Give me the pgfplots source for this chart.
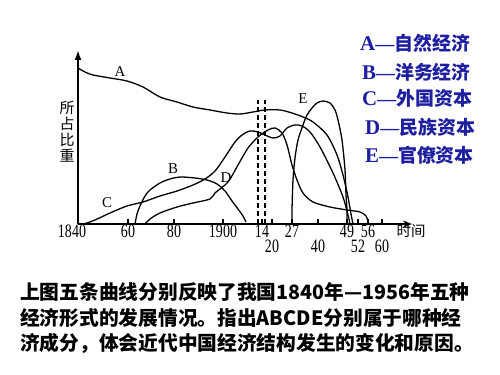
\documentclass[border=0pt]{standalone}
\usepackage{fontspec}
\setmainfont{Liberation Serif}
\newfontfamily\cjk{Noto Sans CJK SC}
\usepackage{pgfplots}
\pgfplotsset{compat=1.18}
\usetikzlibrary{arrows.meta}
\definecolor{legblue}{RGB}{30,30,160}
\newcommand{\leg}[2]{{\fontsize{21}{21}\selectfont\bfseries #1}{\fontsize{19}{19}\selectfont\bfseries —}{\cjk\bfseries\fontsize{19}{19}\selectfont #2}}
\newcommand{\tl}[1]{\scalebox{0.74}[1]{#1}}
\begin{document}
\begin{tikzpicture}
\useasboundingbox (0,0) rectangle (500bp,375bp);
\begin{axis}[
  at={(78bp,151bp)}, anchor=south west,
  x=1bp, y=1bp,
  xmin=0, xmax=334, ymin=0, ymax=174,
  axis lines=left,
  x axis line style={line width=1.8bp, -{Stealth[length=9bp,width=7bp]}},
  y axis line style={line width=1.8bp, -{Latex[length=10bp,width=7bp]}},
  xtick={0,50,96,145,184,214,269,290},
  xticklabels={{\hspace*{-12bp}\tl{1840}},\tl{60},\tl{80},\tl{1900},\tl{14},\tl{27},\tl{49},\tl{56}},
  extra x ticks={194,240,280,304},
  extra x tick labels={\tl{20},\tl{40},\tl{52},\tl{60}},
  extra x tick style={xticklabel style={yshift=-15bp}},
  ytick=\empty,
  tick align=inside,
  major tick length=4.5bp,
  xtick style={line width=1.2bp, black},
  xticklabel style={font=\fontsize{19}{19}\selectfont, inner sep=1bp},
  clip=false,
]
% A
\addplot[black, line width=1.3bp, smooth] coordinates {
(0,156) (7,152) (15,149) (32,146) (49,143) (65,137) (82,127) (99,122) (115,117) (132,114) (149,111) (162,110) (175,112) (187,114) (202,114) (214,111) (225,107) (235,102) (249,89) (259,69) (265,49) (270,27) (273,10) (275,0)};
% B
\addplot[black, line width=1.3bp, smooth] coordinates {
(57,0) (59,10) (62,18) (67,28) (72,34) (82,41) (92,45) (102,47) (117,46) (129,44) (139,40) (147,33) (154,23) (160,15) (165,8) (168,2)};
% C
\addplot[black, line width=1.3bp, smooth] coordinates {
(6,0) (17,4) (32,11) (49,18) (65,22) (82,28) (99,33) (115,39) (127,45) (137,53) (147,67) (157,82) (164,89) (172,93) (180,92) (187,89) (195,86) (202,88) (209,96) (217,99) (224,98) (232,92) (242,77) (255,51) (265,27) (270,9) (272,0)};
% D
\addplot[black, line width=1.3bp, smooth] coordinates {
(67,0) (72,5) (82,11) (99,17) (115,21) (132,25) (137,31) (150,42) (160,59) (170,76) (180,87) (190,94) (197,96) (204,91) (209,79) (214,59) (219,44) (225,31) (235,22) (252,17) (269,14) (282,12) (288,8) (290,2)};
% E
\addplot[black, line width=1.3bp, smooth] coordinates {
(214,0) (214,14) (215,44) (217,66) (220,84) (225,99) (229,109) (234,116) (239,121) (245,123) (252,121) (257,114) (260,104) (264,84) (267,54) (268,29) (269,14) (269,0)};
% dashed lines
\addplot[black, line width=1.6bp, dash pattern=on 4.5bp off 3.5bp] coordinates {(180,0) (180,124)};
\addplot[black, line width=1.6bp, dash pattern=on 4.5bp off 3.5bp] coordinates {(187,0) (187,124)};
\node[font=\fontsize{15}{15}\selectfont] at (axis cs:42,152) {A};
\node[font=\fontsize{15}{15}\selectfont] at (axis cs:95,55) {B};
\node[font=\fontsize{15}{15}\selectfont] at (axis cs:29,21) {C};
\node[font=\fontsize{15}{15}\selectfont] at (axis cs:148,46) {D};
\node[font=\fontsize{15}{15}\selectfont] at (axis cs:225,125) {E};
\end{axis}
\node[font=\cjk\fontsize{14.5}{14.5}\selectfont] at (411bp,144bp) {时间};
\node[font=\cjk\fontsize{15}{16}\selectfont, align=center, inner sep=0pt] at (67bp,243bp) {所\\占\\比\\重};
\node[anchor=west, text=legblue, inner sep=0pt] at (360bp,332bp) {\leg{A}{自然经济}};
\node[anchor=west, text=legblue, inner sep=0pt] at (362bp,303bp) {\leg{B}{洋务经济}};
\node[anchor=west, text=legblue, inner sep=0pt] at (362bp,277bp) {\leg{C}{外国资本}};
\node[anchor=west, text=legblue, inner sep=0pt] at (365bp,248bp) {\leg{D}{民族资本}};
\node[anchor=west, text=legblue, inner sep=0pt] at (365bp,220bp) {\leg{E}{官僚资本}};
\node[anchor=west, inner sep=0pt, font=\cjk\bfseries\fontsize{19.8}{20}\selectfont] at (20bp,83bp) {上图五条曲线分别反映了我国1840年—1956年五种};
\node[anchor=west, inner sep=0pt, font=\cjk\bfseries\fontsize{19.8}{20}\selectfont] at (20bp,57bp) {经济形式的发展情况。指出ABCDE分别属于哪种经};
\node[anchor=west, inner sep=0pt, font=\cjk\bfseries\fontsize{19.8}{20}\selectfont] at (20bp,32bp) {济成分，体会近代中国经济结构发生的变化和原因。};
\end{tikzpicture}
\end{document}
